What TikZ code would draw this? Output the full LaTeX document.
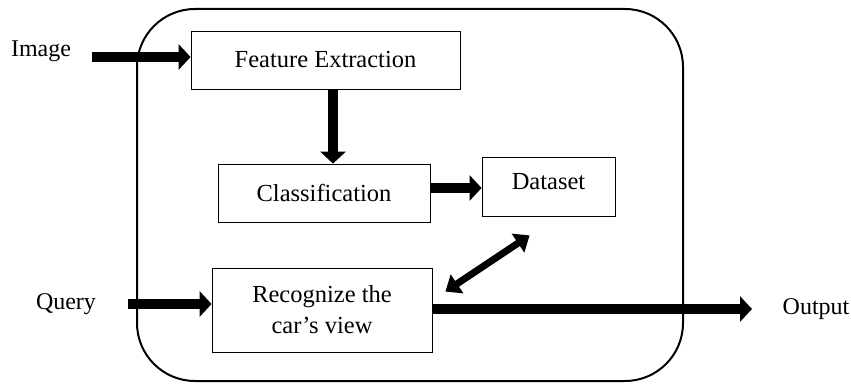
\documentclass[tikz,border=0pt]{standalone}
\usepackage{fontspec}
\setmainfont{Liberation Serif}
\usetikzlibrary{arrows.meta,calc}
\tikzset{
  box/.style={draw, line width=0.8pt, rectangle, inner sep=0pt, align=center},
  fat/.style={line width=9.5pt, -{Triangle[length=12pt,width=25pt]}},
  dbl/.style={line width=7pt, {Triangle[length=14pt,width=22pt]}-{Triangle[length=14pt,width=22pt]}},
  lbl/.style={inner sep=0pt, font=\fontsize{24}{30}\selectfont}
}
\begin{document}
\begin{tikzpicture}[x=1pt,y=-1pt, every node/.style={font=\fontsize{24.5}{31}\selectfont}]
\useasboundingbox (0,0) rectangle (851,385);
\draw[line width=2pt, rounded corners=58pt] (137,9) rectangle (683,381);
\node[box, minimum width=269pt, minimum height=58pt] (fe) at (325.5,60) {Feature Extraction};
\node[box, minimum width=212pt, minimum height=58pt] (cl) at (324,193) {Classification};
\node[box, minimum width=133pt, minimum height=59pt] (ds) at (548.5,186.5) {};
\node[inner sep=0pt] (dst) at (548.5,182) {Dataset};
\node[box, minimum width=220pt, minimum height=84pt] (rec) at (322,310) {Recognize the\\car’s view};
\node[lbl] (img) at (41,51) {Image};
\node[lbl] (qry) at (66,304) {Query};
\node[lbl] (out) at (816,309) {Output};
\coordinate (imgs) at (92,57);
\coordinate (qs) at (128,304);
\coordinate (oe) at (752,309);
\draw[fat] (imgs) -- (imgs -| fe.west);
\draw[fat] (fe.south -| 333,0) -- (cl.north -| 333,0);
\draw[fat] (cl.east |- 0,188) -- (ds.west |- 0,188);
\draw[fat] (qs) -- (qs -| rec.west);
\draw[fat] (oe -| rec.east) -- (oe);
\draw[dbl] ([shift={(13,24)}]rec.north east) -- ([shift={(48,19)}]ds.south west);
\end{tikzpicture}
\end{document}
